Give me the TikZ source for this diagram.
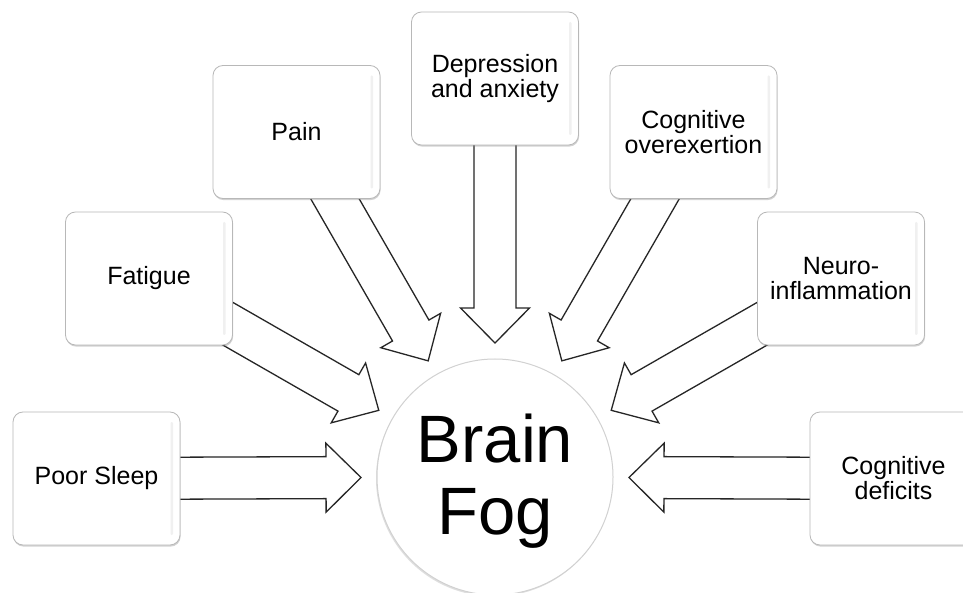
\documentclass[tikz,border=0pt]{standalone}
\usepackage{fontspec}
\setmainfont{Liberation Sans}
\usetikzlibrary{calc,shadows,backgrounds}
\newcommand\blockarr[1]{%
  \coordinate (t-#1) at ($(bf.center)!134pt!(#1.center)$);
  \coordinate (h-#1) at ($(t-#1)!35pt!(#1.center)$);
  \draw[arr] ($(#1.center)!21pt!90:(t-#1)$) -- ($(h-#1)!21pt!90:(t-#1)$)
     -- ($(h-#1)!34.5pt!90:(t-#1)$) -- (t-#1)
     -- ($(h-#1)!34.5pt!-90:(t-#1)$) -- ($(h-#1)!21pt!-90:(t-#1)$)
     -- ($(#1.center)!21pt!-90:(t-#1)$) -- cycle;}
\begin{document}
\begin{tikzpicture}[x=1pt,y=1pt,
  fbox/.style={draw=black!28, line width=0.8pt, fill=white, rounded corners=10pt,
    minimum width=167pt, minimum height=133pt, inner sep=0pt, outer sep=0pt,
    align=center, font=\fontsize{25}{25}\selectfont,
    drop shadow={shadow xshift=0.6pt, shadow yshift=-1.6pt, opacity=0.35, fill=black!50},
    path picture={\fill[black!6, rounded corners=1.2pt]
      ([xshift=-9.5pt,yshift=-10pt]path picture bounding box.north east) rectangle
      ([xshift=-7pt,yshift=10pt]path picture bounding box.south east);}},
  arr/.style={draw=black!85, line width=1.3pt, fill=white, line join=miter}]
\useasboundingbox (0,0) rectangle (963,592);
\clip (0,0) rectangle (963,592);
\node[circle, draw=black!18, line width=1pt, fill=white, minimum size=236pt, inner sep=0pt,
  drop shadow={shadow xshift=-1pt, shadow yshift=-1.5pt, opacity=0.25, fill=black!50}] (bf) at (495,115) {};
\node[font=\fontsize{67}{72}\selectfont, align=center, inner sep=0pt] (bft) at ([yshift=-4pt]bf.center) {Brain\\Fog};
\node[fbox] (ps) at (96.5,113.5) {Poor Sleep};
\node[fbox] (fa) at (149,313.5) {Fatigue};
\node[fbox] (pa) at (296.5,460) {Pain};
\node[fbox] (de) at (495,513.5) {Depression\\and anxiety};
\node[fbox] (co) at (693.5,460) {Cognitive\\overexertion};
\node[fbox] (ne) at (841,313.5) {Neuro-\\inflammation};
\node[fbox] (cd) at (893.5,113.5) {Cognitive\\deficits};
\begin{scope}[on background layer]
\fill[white] (0,0) rectangle (963,592);
\blockarr{ps}
\blockarr{fa}
\blockarr{pa}
\blockarr{de}
\blockarr{co}
\blockarr{ne}
\blockarr{cd}
\end{scope}
\end{tikzpicture}
\end{document}
